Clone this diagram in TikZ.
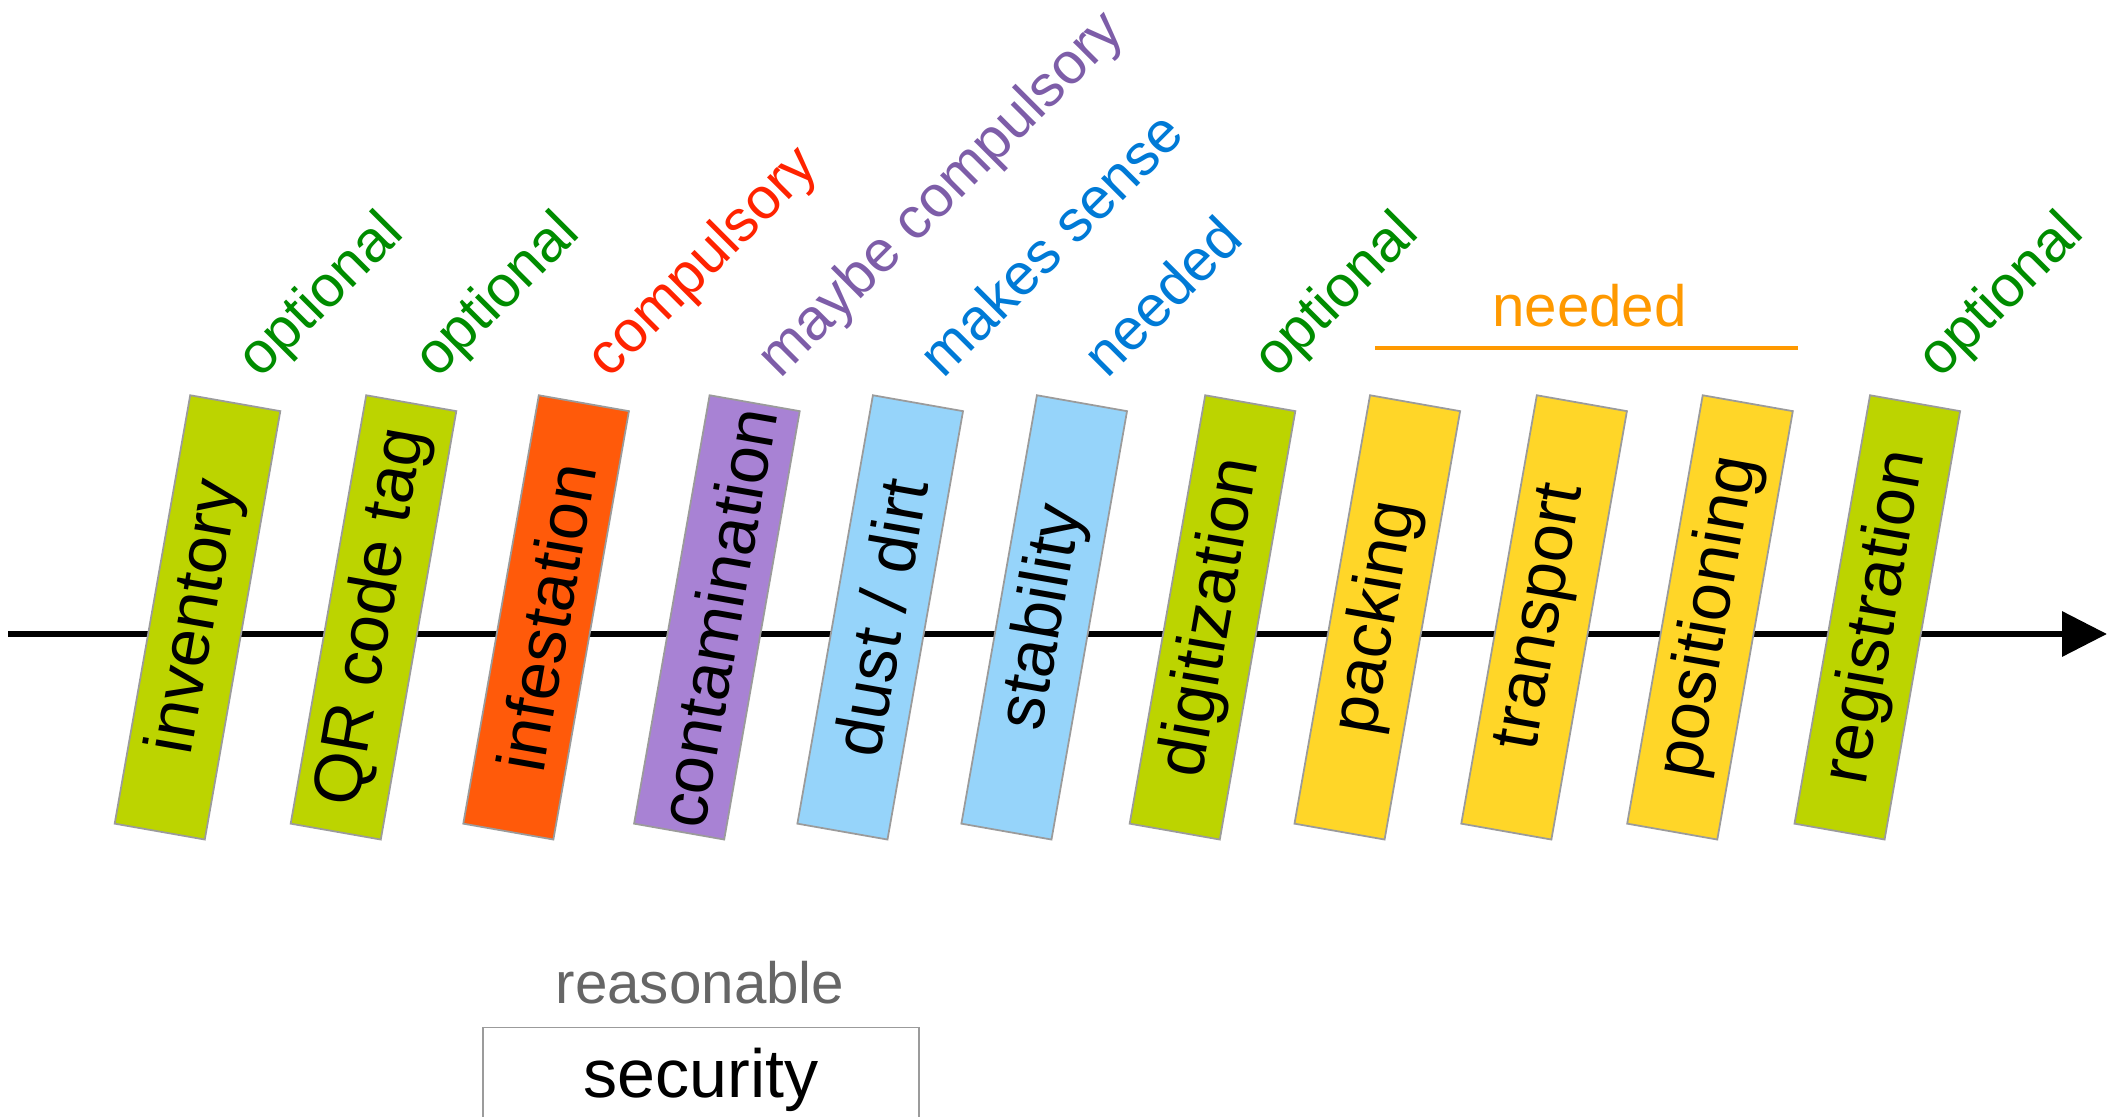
\documentclass[tikz,border=0pt]{standalone}
\usepackage{fontspec}
\setmainfont{Liberation Sans}
\usetikzlibrary{arrows.meta,calc}
\definecolor{boxgreen}{RGB}{188,212,0}
\definecolor{boxred}{RGB}{255,90,10}
\definecolor{boxpurple}{RGB}{168,130,212}
\definecolor{boxblue}{RGB}{150,212,250}
\definecolor{boxyellow}{RGB}{255,214,40}
\definecolor{txtgreen}{RGB}{0,140,0}
\definecolor{txtred}{RGB}{255,35,0}
\definecolor{txtpurple}{RGB}{125,93,168}
\definecolor{txtblue}{RGB}{0,122,214}
\definecolor{txtorange}{RGB}{255,153,0}
\definecolor{txtgray}{RGB}{102,102,102}
\definecolor{edgegray}{RGB}{155,155,155}

\begin{document}
\begin{tikzpicture}[
  stepbox/.style={draw=edgegray,line width=0.5pt,rotate=80,minimum width=4.35cm,minimum height=0.915cm,inner sep=0pt,font=\fontsize{19.4}{22}\selectfont},
  notelabel/.style={rotate=45,anchor=base west,inner sep=0pt,font=\fontsize{16.6}{19}\selectfont},
  flatlabel/.style={anchor=base,inner sep=0pt,font=\fontsize{16.6}{19}\selectfont}]
  \clip (0,0) rectangle (21.09,11.16);
  % time line
  \coordinate (tstart) at (0.08,4.82);
  \coordinate (tend) at (21.07,4.82);
  \draw[line width=1.9pt,-{Triangle[length=0.45cm,width=0.44cm]}] (tstart) -- (tend);
  % steps
  \node[stepbox,fill=boxgreen] (inv) at (1.975,4.986) {inventory};
  \node[stepbox,fill=boxgreen] (qr) at (3.735,4.986) {QR code tag};
  \node[stepbox,fill=boxred] (infest) at (5.461,4.986) {infestation};
  \node[stepbox,fill=boxpurple] (contam) at (7.169,4.986) {contamination};
  \node[stepbox,fill=boxblue] (dust) at (8.802,4.986) {dust / dirt};
  \node[stepbox,fill=boxblue] (stab) at (10.442,4.986) {stability};
  \node[stepbox,fill=boxgreen] (digit) at (12.125,4.986) {digitization};
  \node[stepbox,fill=boxyellow] (pack) at (13.773,4.986) {packing};
  \node[stepbox,fill=boxyellow] (transp) at (15.441,4.986) {transport};
  \node[stepbox,fill=boxyellow] (posit) at (17.100,4.986) {positioning};
  \node[stepbox,fill=boxgreen] (regist) at (18.773,4.986) {registration};
  % ratings
  \node[notelabel,text=txtgreen] (invnote) at ($(inv.center)+(0.63,2.374)$) {optional};
  \node[notelabel,text=txtgreen] (qrnote) at ($(qr.center)+(0.63,2.374)$) {optional};
  \node[notelabel,text=txtred] (infestnote) at ($(infest.center)+(0.63,2.374)$) {compulsory};
  \node[notelabel,text=txtpurple] (contamnote) at ($(contam.center)+(0.63,2.374)$) {maybe compulsory};
  \node[notelabel,text=txtblue] (dustnote) at ($(dust.center)+(0.63,2.374)$) {makes sense};
  \node[notelabel,text=txtblue] (stabnote) at ($(stab.center)+(0.63,2.374)$) {needed};
  \node[notelabel,text=txtgreen] (digitnote) at ($(digit.center)+(0.63,2.374)$) {optional};
  \node[notelabel,text=txtgreen] (registnote) at ($(regist.center)+(0.63,2.374)$) {optional};
  % shared rating for packing, transport, positioning
  \node[flatlabel,text=txtorange] (neednote) at (15.895,7.90) {needed};
  \coordinate (needl) at (13.75,7.68);
  \coordinate (needr) at (17.977,7.68);
  \draw[txtorange,line width=1pt] (needl) -- (needr);
  % security
  \node[flatlabel,text=txtgray] (secnote) at (7.00,1.127) {reasonable};
  \node[draw=edgegray,line width=0.5pt,minimum width=4.36cm,minimum height=1.04cm,inner sep=0pt,font=\fontsize{19.4}{22}\selectfont] (secure) at (7.008,0.366) {security};
\end{tikzpicture}
\end{document}
